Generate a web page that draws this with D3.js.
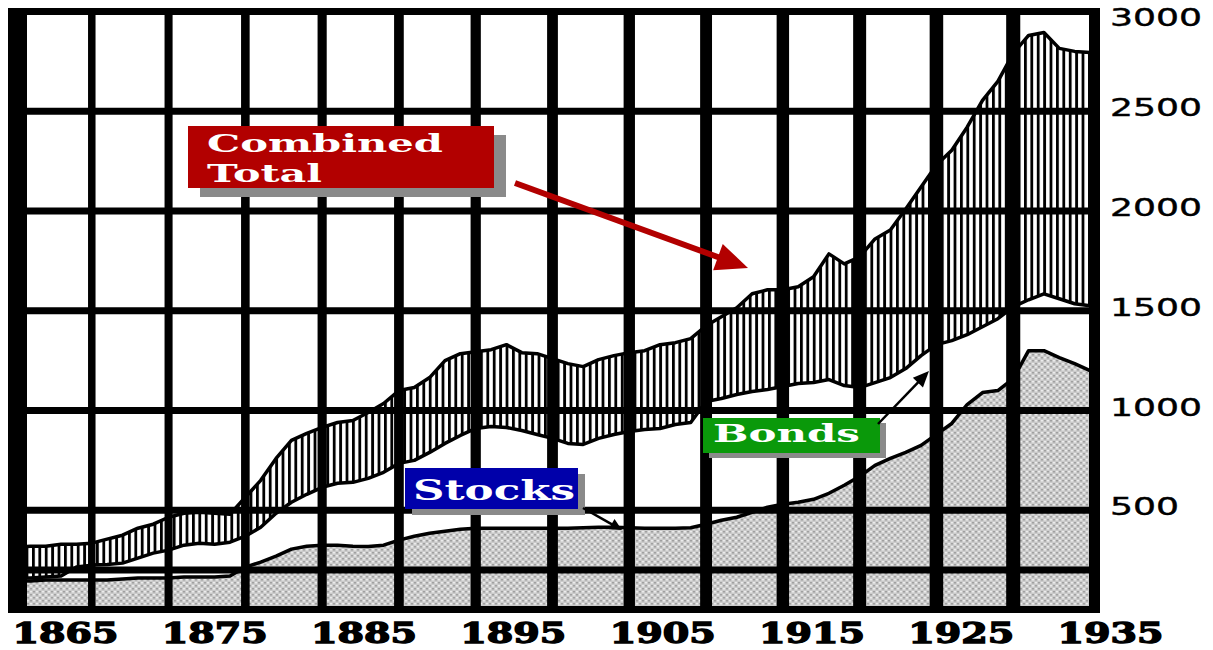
<!DOCTYPE html>
<html>
<head>
<script src="https://d3js.org/d3.v7.min.js"></script>
<style>
  body { margin: 0; background: #fff; }
  .year-axis text { font-family: "DejaVu Serif", serif; font-weight: bold; font-size: 27px; fill: #000; stroke: #000; stroke-width: 1.3px; }
  .value-axis text { font-family: "DejaVu Sans", sans-serif; font-size: 24px; fill: #000; stroke: #000; stroke-width: 0.4px; }
  .tag text { font-family: "DejaVu Serif", serif; font-weight: bold; fill: #fff; }
</style>
</head>
<body>
<svg width="1213" height="650"></svg>
<script>
const years = [1865, 1866, 1867, 1868, 1869, 1870, 1871, 1872, 1873, 1874,
  1875, 1876, 1877, 1878, 1879, 1880, 1881, 1882, 1883, 1884,
  1885, 1886, 1887, 1888, 1889, 1890, 1891, 1892, 1893, 1894,
  1895, 1896, 1897, 1898, 1899, 1900, 1901, 1902, 1903, 1904,
  1905, 1906, 1907, 1908, 1909, 1910, 1911, 1912, 1913, 1914,
  1915, 1916, 1917, 1918, 1919, 1920, 1921, 1922, 1923, 1924,
  1925, 1926, 1927, 1928, 1929, 1930, 1931, 1932, 1933, 1934, 1935];

// top of the grey area
const stocks = [145, 145, 150, 150, 150, 150, 150, 155, 160, 160,
  160, 165, 165, 165, 170, 215, 240, 270, 305, 320,
  325, 325, 320, 318, 325, 350, 370, 385, 395, 405,
  410, 410, 410, 410, 410, 410, 410, 412, 415, 415,
  412, 410, 410, 410, 412, 430, 450, 465, 490, 515,
  530, 540, 555, 585, 625, 670, 725, 760, 790, 825,
  880, 935, 1030, 1090, 1100, 1160, 1300, 1300, 1265, 1235, 1200];

// lower edge of the hatched band
const stocksBonds = [160, 160, 165, 170, 215, 225, 228, 235, 260, 285,
  300, 325, 335, 330, 340, 370, 415, 485, 540, 580,
  615, 635, 640, 660, 690, 735, 750, 790, 835, 875,
  910, 920, 915, 900, 880, 860, 835, 830, 860, 880,
  895, 905, 910, 930, 940, 1045, 1060, 1080, 1095, 1105,
  1120, 1135, 1140, 1155, 1125, 1115, 1140, 1165, 1210, 1275,
  1330, 1350, 1380, 1420, 1460, 1520, 1555, 1585, 1560, 1535, 1525];

// top of the hatched band
const combined = [315, 320, 320, 330, 330, 335, 355, 375, 410, 430,
  465, 485, 490, 485, 480, 565, 650, 760, 850, 885,
  915, 940, 950, 990, 1035, 1100, 1115, 1165, 1250, 1285,
  1295, 1305, 1330, 1290, 1285, 1260, 1235, 1220, 1255, 1275,
  1290, 1300, 1330, 1340, 1360, 1425, 1470, 1515, 1585, 1605,
  1605, 1620, 1670, 1785, 1735, 1770, 1860, 1905, 2010, 2120,
  2230, 2305, 2420, 2555, 2650, 2790, 2880, 2895, 2815, 2800, 2795];

const gridYears = [1870, 1875, 1880, 1885, 1890, 1895, 1900, 1905, 1910, 1915, 1920, 1925, 1930];
const gridValues = [200, 500, 1000, 1500, 2000, 2500];
const valueTicks = [500, 1000, 1500, 2000, 2500, 3000];
const yearTicks = [1865, 1875, 1885, 1895, 1905, 1915, 1925, 1935];

const rows = years.map((yr, i) => ({
  year: yr, stocks: stocks[i], low: stocksBonds[i], total: combined[i]
}));

const svg = d3.select("svg");
const x = d3.scaleLinear().domain([1865, 1935]).range([15, 1090]);
const y = d3.scaleLinear().domain([0, 3000]).range([610, 11.5]);

const defs = svg.append("defs");
const hatch = defs.append("pattern").attr("id", "hatch")
    .attr("patternUnits", "userSpaceOnUse").attr("width", 6.4).attr("height", 10);
hatch.append("rect").attr("width", 6.4).attr("height", 10).attr("fill", "#fff");
hatch.append("rect").attr("width", 2.8).attr("height", 10).attr("fill", "#000");

const stip = defs.append("pattern").attr("id", "stipple")
    .attr("patternUnits", "userSpaceOnUse").attr("width", 6).attr("height", 6);
stip.append("rect").attr("width", 6).attr("height", 6).attr("fill", "#cbcbcb");
[[0, 0, "#a0a0a0"], [3, 3, "#a0a0a0"], [3, 0, "#ececec"], [0, 3, "#ececec"]].forEach(([px, py, c]) => {
  stip.append("rect").attr("x", px).attr("y", py).attr("width", 2).attr("height", 1.5).attr("fill", c);
});

// areas
svg.append("path").datum(rows)
    .attr("fill", "url(#stipple)")
    .attr("d", d3.area().x(d => x(d.year)).y0(y(0)).y1(d => y(d.stocks)));

svg.append("path").datum(rows)
    .attr("fill", "url(#hatch)")
    .attr("d", d3.area().x(d => x(d.year)).y0(d => y(d.low)).y1(d => y(d.total)));

["stocks", "low", "total"].forEach(key => {
  svg.append("path").datum(rows)
      .attr("fill", "none").attr("stroke", "#000").attr("stroke-width", 3.5)
      .attr("stroke-linejoin", "round")
      .attr("d", d3.line().x(d => x(d.year)).y(d => y(d[key])));
});

// grid
svg.append("g").selectAll("line").data(gridYears).join("line")
    .attr("x1", d => x(d)).attr("x2", d => x(d))
    .attr("y1", 8).attr("y2", 613)
    .attr("stroke", "#000")
    .attr("stroke-width", (d, i) => 7.5 + i * 0.55);

svg.append("g").selectAll("line").data(gridValues).join("line")
    .attr("x1", 8).attr("x2", 1100)
    .attr("y1", d => y(d)).attr("y2", d => y(d))
    .attr("stroke", "#000").attr("stroke-width", 7);

// frame
svg.append("rect").attr("x", 8).attr("y", 8).attr("width", 1092).attr("height", 7).attr("fill", "#000");
svg.append("rect").attr("x", 8).attr("y", 606).attr("width", 1092).attr("height", 7).attr("fill", "#000");
svg.append("rect").attr("x", 8).attr("y", 8).attr("width", 19).attr("height", 605).attr("fill", "#000");
svg.append("rect").attr("x", 1089).attr("y", 8).attr("width", 11).attr("height", 605).attr("fill", "#000");

// axes
const labelX = d3.scaleLinear().domain([1865, 1935]).range([65, 1110]);
const xAxis = svg.append("g").attr("class", "year-axis")
    .call(d3.axisBottom(labelX).tickValues(yearTicks).tickSize(0).tickFormat(d3.format("d")));
xAxis.select(".domain").remove();
xAxis.selectAll("text")
    .attr("y", 624)
    .attr("textLength", 106)
    .attr("lengthAdjust", "spacingAndGlyphs");

const yAxis = svg.append("g").attr("class", "value-axis")
    .attr("transform", "translate(1110,0)")
    .call(d3.axisRight(y).tickValues(valueTicks).tickSize(0).tickPadding(0).tickFormat(d3.format("d")));
yAxis.select(".domain").remove();
yAxis.selectAll("text")
    .attr("y", d => d === 3000 ? 18 - y(3000) : -3)
    .attr("textLength", d => String(d).length * 23)
    .attr("lengthAdjust", "spacingAndGlyphs");

// labels
function tag(bx, by, w, h, sx, sy, color, lines) {
  const g = svg.append("g").attr("class", "tag");
  g.append("rect").attr("x", bx + sx).attr("y", by + sy).attr("width", w).attr("height", h).attr("fill", "#8a8a8a");
  g.append("rect").attr("x", bx).attr("y", by).attr("width", w).attr("height", h).attr("fill", color);
  lines.forEach(l => {
    g.append("text").attr("x", l.x).attr("y", l.y)
        .attr("font-size", l.size)
        .attr("textLength", l.len).attr("lengthAdjust", "spacingAndGlyphs")
        .text(l.text);
  });
}
tag(188, 126, 306, 62, 12, 9, "#b20000", [
  { text: "Combined", x: 207, y: 152, len: 236, size: 25 },
  { text: "Total", x: 207, y: 182, len: 115, size: 25 }
]);
tag(405, 468, 173, 41, 7, 6, "#0000aa", [
  { text: "Stocks", x: 413, y: 500, len: 162, size: 27 }
]);
tag(703, 418, 177, 35, 6, 5, "#0a990a", [
  { text: "Bonds", x: 713, y: 442, len: 147, size: 25 }
]);

// arrows
function arrow(x1, y1, x2, y2, color, width, headLen, headHalf) {
  const dx = x2 - x1, dy = y2 - y1, len = Math.hypot(dx, dy);
  const ux = dx / len, uy = dy / len, nx = -uy, ny = ux;
  const bx = x2 - headLen * ux, by = y2 - headLen * uy;
  svg.append("line").attr("x1", x1).attr("y1", y1).attr("x2", bx + ux * 2).attr("y2", by + uy * 2)
      .attr("stroke", color).attr("stroke-width", width);
  svg.append("polygon")
      .attr("points", [[x2, y2], [bx + headHalf * nx, by + headHalf * ny], [bx - headHalf * nx, by - headHalf * ny]].join(" "))
      .attr("fill", color);
}
arrow(515, 183, 748, 268, "#b20000", 6, 32, 14);
arrow(583, 508, 622, 530, "#000", 2.5, 12, 6);
arrow(878, 424, 929, 371, "#000", 2.5, 16, 7);
</script>
</body>
</html>
